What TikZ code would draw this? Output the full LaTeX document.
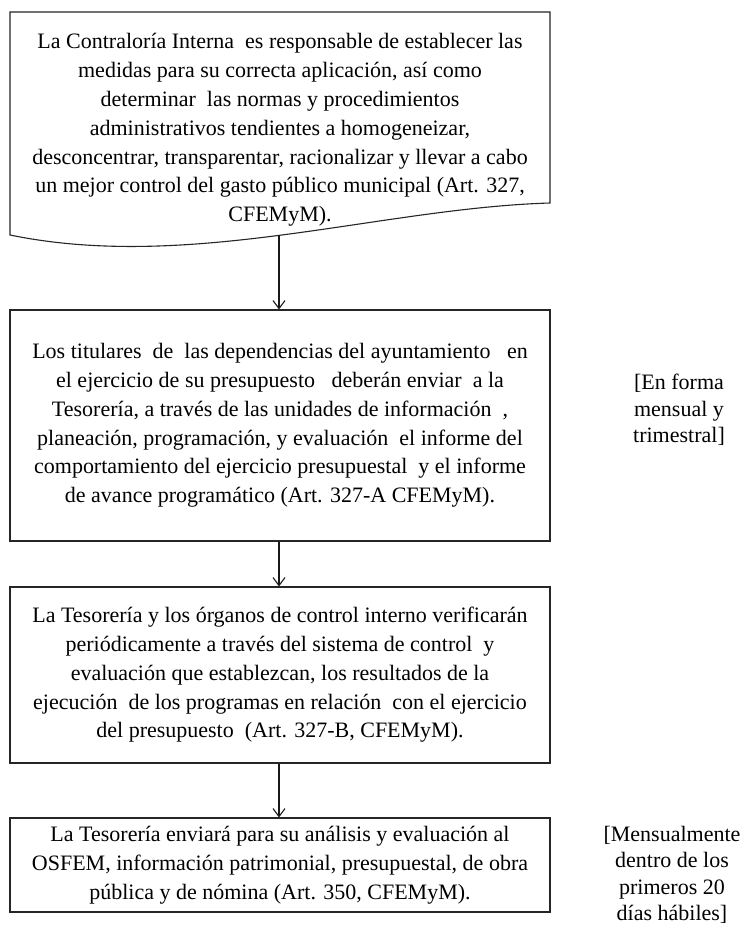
\documentclass[tikz,border=0pt]{standalone}
\usepackage{fontspec}
\setmainfont{Liberation Serif}
\usetikzlibrary{arrows.meta}
\newcommand{\xs}{\hspace{0.25em}}
\begin{document}
\begin{tikzpicture}[x=1pt,y=-1pt,
  txt/.style={align=center, font=\fontsize{22}{28.8}\selectfont, inner sep=0pt},
  side/.style={align=center, font=\fontsize{22}{26.5}\selectfont, inner sep=0pt},
  frame/.style={draw=black!85, line width=1.1pt},
  conn/.style={draw=black!90, line width=1.1pt, -{Straight Barb[length=8pt,width=12pt,line width=1.1pt]}}]
\useasboundingbox[fill=white] (0,0) rectangle (741,930);
% box 1 (document shape)
\draw[frame] (10,12) -- (550,12) -- (550,203) .. controls (380,208) and (190,272) .. (10,235) -- cycle;
\node[txt] (b1) at (280,130) {La Contraloría Interna\xs{} es responsable de establecer las\\
medidas para su correcta aplicación, así como\\
determinar\xs{} las normas y procedimientos\\
administrativos tendientes a homogeneizar,\\
desconcentrar, transparentar, racionalizar y llevar a cabo\\
un mejor control del gasto público municipal (Art. 327,\\
CFEMyM).};
\coordinate (w) at (279,235);
% box 2
\node[frame, txt, minimum width=540pt, minimum height=231pt] (b2) at (280,425.5) {Los titulares\xs{} de\xs{} las dependencias del ayuntamiento\xs\xs{} en\\
el ejercicio de su presupuesto\xs\xs{} deberán enviar\xs{} a la\\
Tesorería, a través de las unidades de información\xs{} ,\\
planeación, programación, y evaluación\xs{} el informe del\\
comportamiento del ejercicio presupuestal\xs{} y el informe\\
de avance programático (Art. 327-A CFEMyM).};
% box 3
\node[frame, txt, minimum width=540pt, minimum height=176pt] (b3) at (280,675) {La Tesorería y los órganos de control interno verificarán\\
periódicamente a través del sistema de control\xs{} y\\
evaluación que establezcan, los resultados de la\\
ejecución\xs{} de los programas en relación\xs{} con el ejercicio\\
del presupuesto\xs{} (Art. 327-B, CFEMyM).};
% box 4
\node[frame, txt, minimum width=540pt, minimum height=94pt] (b4) at (280,865) {La Tesorería enviará para su análisis y evaluación al\\
OSFEM, información patrimonial, presupuestal, de obra\\
pública y de nómina (Art. 350, CFEMyM).};
% side labels
\node[side] (l1) at (679,410) {[En forma\\ mensual y\\ trimestral]};
\node[side] (l2) at (672,875) {[Mensualmente\\ dentro de los\\ primeros 20\\ días hábiles]};
% connectors
\draw[conn] (w) -- (w |- b2.north);
\draw[conn] (b2.south -| w) -- (b3.north -| w);
\draw[conn] (b3.south -| w) -- (b4.north -| w);
\end{tikzpicture}
\end{document}
